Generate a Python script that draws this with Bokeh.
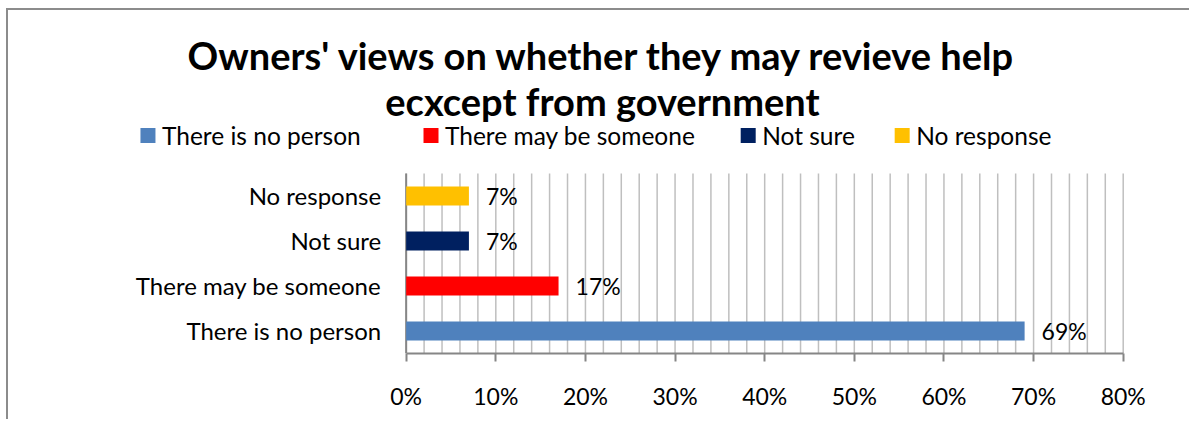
from bokeh.plotting import figure
from bokeh.models import ColumnDataSource, FixedTicker, Range1d
from bokeh.embed import file_html
from bokeh.resources import INLINE
from bokeh.core.properties import value

# ---- data ----
categories = ["There is no person", "There may be someone", "Not sure", "No response"]
values = [69, 17, 7, 7]
value_labels = ["69%", "17%", "7%", "7%"]
colors = ["#4F81BD", "#FF0000", "#002060", "#FFC000"]
x_ticks = [0, 10, 20, 30, 40, 50, 60, 70, 80]
x_tick_labels = ["0%", "10%", "20%", "30%", "40%", "50%", "60%", "70%", "80%"]
grid_ticks = list(range(0, 81, 2))
title_lines = ["Owners' views on whether they may revieve help", "ecxcept from government"]

# ---- layout / style ----
FONT = "Lato"
GRID_C = "#BFBFBF"
AXIS_C = "#868686"
legend_x = [-28.81, 2.77, 38.16, 55.34]   # legend square centres (axis units)
legend_y = 4.844
title_x = 21.9
title_y = [6.644, 5.6]

ys = [i + 0.5 for i in range(len(categories))]
src = ColumnDataSource(dict(y=ys, v=values, color=colors, label=value_labels, cat=categories))

W, H = 1183, 411
p = figure(width=W, height=H, output_backend="svg", toolbar_location=None,
           title=None, x_range=Range1d(-44.37, 87.62), y_range=Range1d(0, 7.622),
           y_axis_location=None,
           min_border_left=0, min_border_right=0, min_border_top=0, min_border_bottom=68)
p.styles = {"border-left": "2px solid #8C8C8C", "border-top": "2px solid #8C8C8C",
            "margin-left": "6px", "margin-top": "8px"}
p.outline_line_color = None
p.background_fill_color = "white"
p.border_fill_color = "white"
p.xgrid.visible = False
p.ygrid.visible = False

# vertical gridlines (every 2%)
p.segment(x0=grid_ticks, y0=[0] * len(grid_ticks), x1=grid_ticks, y1=[len(categories)] * len(grid_ticks),
          line_color=GRID_C, line_width=1.5)
# category axis line
p.segment(x0=[0], y0=[0], x1=[0], y1=[len(categories)], line_color=AXIS_C, line_width=2)

# x axis
p.xaxis.bounds = (x_ticks[0], x_ticks[-1])
p.xaxis.ticker = FixedTicker(ticks=x_ticks, minor_ticks=[])
p.xaxis.major_label_overrides = {t: l for t, l in zip(x_ticks, x_tick_labels)}
p.xaxis.major_tick_out = 8
p.xaxis.major_tick_in = 0
p.xaxis.minor_tick_out = 0
p.xaxis.minor_tick_in = 0
p.xaxis.axis_line_color = AXIS_C
p.xaxis.axis_line_width = 2
p.xaxis.major_tick_line_color = AXIS_C
p.xaxis.major_tick_line_width = 2
p.xaxis.major_label_standoff = 20
p.xaxis.major_label_text_font = FONT
p.xaxis.major_label_text_font_size = "23px"
p.xaxis.major_label_text_color = "black"

# bars
p.hbar(y="y", left=0, right="v", height=0.42, fill_color="color", line_color=None, source=src)

# data labels
p.text(x="v", y="y", text="label", x_offset=17, text_baseline="middle", text_align="left",
       text_font=value(FONT), text_font_size="23px", text_color="black", source=src)

# category labels
p.text(x=0, y="y", text="cat", x_offset=-25, text_baseline="middle", text_align="right",
       text_font=value(FONT), text_font_size="24px", text_color="black", source=src)

# title
p.text(x=[title_x, title_x], y=title_y, text=title_lines, text_align="center",
       text_baseline="middle", text_font=value(FONT), text_font_size="38px",
       text_font_style="bold", text_color="black")

# legend
p.scatter(x=legend_x, y=[legend_y] * len(categories), marker="square", size=15,
          fill_color=colors, line_color=None)
p.text(x=legend_x, y=[legend_y] * len(categories), text=categories, x_offset=14,
       text_baseline="middle", text_align="left", text_font=value(FONT),
       text_font_size="24.5px", text_color="black")

open("out.html", "w").write(file_html(p, INLINE))
